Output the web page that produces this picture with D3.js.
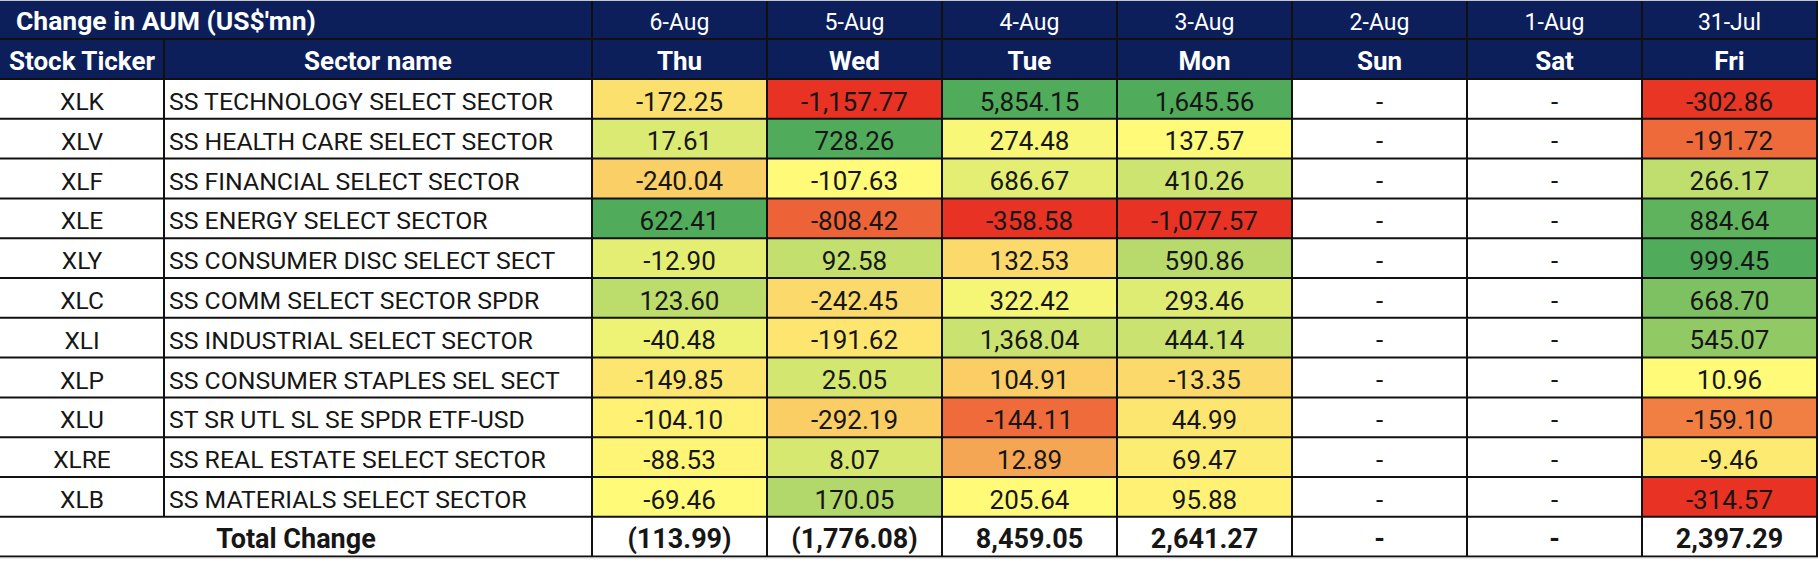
<!DOCTYPE html>
<html><head><meta charset="utf-8">
<script src="https://cdn.jsdelivr.net/npm/d3@7"></script>
<style>html,body{margin:0;padding:0;background:#fff;} svg{display:block}</style>
</head><body><svg id="chart" width="1818" height="568"></svg>
<script>
// ---------- data ----------
const title = "Change in AUM (US$'mn)";
const tickerHeader = "Stock Ticker";
const sectorHeader = "Sector name";
const totalLabel = "Total Change";
const dates = ["6-Aug","5-Aug","4-Aug","3-Aug","2-Aug","1-Aug","31-Jul"];
const days = ["Thu","Wed","Tue","Mon","Sun","Sat","Fri"];
const tickers = ["XLK","XLV","XLF","XLE","XLY","XLC","XLI","XLP","XLU","XLRE","XLB"];
const sectors = [
  "SS TECHNOLOGY SELECT SECTOR",
  "SS HEALTH CARE SELECT SECTOR",
  "SS FINANCIAL SELECT SECTOR",
  "SS ENERGY SELECT SECTOR",
  "SS CONSUMER DISC SELECT SECT",
  "SS COMM SELECT SECTOR SPDR",
  "SS INDUSTRIAL SELECT SECTOR",
  "SS CONSUMER STAPLES SEL SECT",
  "ST SR UTL SL SE SPDR ETF-USD",
  "SS REAL ESTATE SELECT SECTOR",
  "SS MATERIALS SELECT SECTOR"
];
const thu = [-172.25, 17.61, -240.04, 622.41, -12.90, 123.60, -40.48, -149.85, -104.10, -88.53, -69.46];
const wed = [-1157.77, 728.26, -107.63, -808.42, 92.58, -242.45, -191.62, 25.05, -292.19, 8.07, 170.05];
const tue = [5854.15, 274.48, 686.67, -358.58, 132.53, 322.42, 1368.04, 104.91, -144.11, 12.89, 205.64];
const mon = [1645.56, 137.57, 410.26, -1077.57, 590.86, 293.46, 444.14, -13.35, 44.99, 69.47, 95.88];
const sun = [null, null, null, null, null, null, null, null, null, null, null];
const sat = [null, null, null, null, null, null, null, null, null, null, null];
const fri = [-302.86, -191.72, 266.17, 884.64, 999.45, 668.70, 545.07, 10.96, -159.10, -9.46, -314.57];
const totals = [-113.99, -1776.08, 8459.05, 2641.27, null, null, 2397.29];

const series = [thu, wed, tue, mon, sun, sat, fri];

// ---------- style / layout ----------
const NAVY = "#0c1f5b";
const LINE = "#111";
const RED = d3.rgb(232, 50, 35), YEL = d3.rgb(255, 250, 120), GRN = d3.rgb(80, 172, 90);
const redSide = d3.interpolateRgb(RED, YEL), grnSide = d3.interpolateRgb(YEL, GRN);
const lowAnchorOverride = { Thu: -1100 };
const FONT = "Roboto, 'Liberation Sans', Arial, sans-serif";

const xTicker = [0, 164], xSector = [164, 592];
const x = d3.scaleBand().domain(days).range([592, 1817]);
const yHead1 = [1, 39], yHead2 = [39, 79];
const y = d3.scaleBand().domain(tickers).range([79, 516.8]);
const yTotal = [516.8, 556.6];

const loc = d3.formatLocale({decimal: ".", thousands: ",", grouping: [3], currency: ["$", ""], minus: "-"});
const fmt = loc.format(",.2f");
const fmtVal = v => v == null ? "-" : fmt(v);
const fmtTot = v => v == null ? "-" : (v < 0 ? "(" + fmt(-v) + ")" : fmt(v));

function colorScale(vals, day) {
  const valid = vals.filter(v => v != null);
  if (!valid.length) return () => "#fff";
  const lo = lowAnchorOverride[day] ?? d3.min(valid);
  const mid = d3.median(valid), hi = d3.max(valid);
  const tR = d3.scaleLinear().domain([lo, mid]).range([0, 1]).clamp(true);
  const tG = d3.scaleLinear().domain([mid, hi]).range([0, 1]).clamp(true);
  return v => v == null ? "#fff" : (v <= mid ? redSide(Math.pow(tR(v), 1.3)) : grnSide(Math.pow(tG(v), 0.75)));
}

const svg = d3.select("#chart");
svg.append("rect").attr("width", 1818).attr("height", 568).attr("fill", "#fff");

// header background
svg.append("rect").attr("x", 0).attr("y", yHead1[0]).attr("width", 1817).attr("height", yHead2[1] - yHead1[0]).attr("fill", NAVY);

// data cells
days.forEach((d, j) => {
  const col = series[j];
  const c = colorScale(col, d);
  svg.append("g").selectAll("rect").data(col).join("rect")
    .attr("x", x(d)).attr("y", (v, i) => y(tickers[i]))
    .attr("width", x.bandwidth()).attr("height", y.bandwidth())
    .attr("fill", v => c(v));
});

// grid lines
const g = svg.append("g").attr("stroke", LINE).attr("stroke-width", 2);
const hLines = [yHead1[1], yHead2[1], ...tickers.map(t => y(t) + y.bandwidth()), yTotal[1]];
hLines.forEach(yy => g.append("line").attr("x1", 0).attr("x2", 1818).attr("y1", yy).attr("y2", yy));
g.append("line").attr("x1", xTicker[1]).attr("x2", xTicker[1]).attr("y1", yHead1[1]).attr("y2", yTotal[0]);
const vLines = [xSector[1], ...days.map(d => x(d) + x.bandwidth())];
vLines.forEach(xx => g.append("line").attr("x1", xx).attr("x2", xx).attr("y1", yHead1[0]).attr("y2", yTotal[1]));
svg.append("line").attr("x1", 0).attr("x2", 1818).attr("y1", 0.5).attr("y2", 0.5).attr("stroke", "#c8c8c8").attr("stroke-width", 1);
svg.append("line").attr("x1", 0).attr("x2", 1818).attr("y1", 558).attr("y2", 558).attr("stroke", "#d8d8d8").attr("stroke-width", 1);

// header text
const T = svg.append("g").attr("font-family", FONT);
T.append("text").attr("x", 16).attr("y", 30).attr("fill", "#fff").attr("font-weight", 700).attr("font-size", 26.5).text(title);
T.append("text").attr("x", (xTicker[0] + xTicker[1]) / 2).attr("y", 70).attr("text-anchor", "middle")
  .attr("fill", "#fff").attr("font-weight", 700).attr("font-size", 26).text(tickerHeader);
T.append("text").attr("x", (xSector[0] + xSector[1]) / 2).attr("y", 70).attr("text-anchor", "middle")
  .attr("fill", "#fff").attr("font-weight", 700).attr("font-size", 26).text(sectorHeader);
T.append("g").selectAll("text").data(dates).join("text")
  .attr("x", (d, j) => x(days[j]) + x.bandwidth() / 2).attr("y", 30).attr("text-anchor", "middle")
  .attr("fill", "#fff").attr("font-size", 23).text(d => d);
T.append("g").selectAll("text").data(days).join("text")
  .attr("x", d => x(d) + x.bandwidth() / 2).attr("y", 70).attr("text-anchor", "middle")
  .attr("fill", "#fff").attr("font-weight", 700).attr("font-size", 26).text(d => d);

// body text
const B = svg.append("g").attr("font-family", FONT).attr("fill", "#161616");
B.append("g").selectAll("text").data(tickers).join("text")
  .attr("x", (xTicker[0] + xTicker[1]) / 2).attr("y", t => y(t) + 31).attr("text-anchor", "middle")
  .attr("font-size", 24.5).text(t => t);
B.append("g").selectAll("text").data(sectors).join("text")
  .attr("x", xSector[0] + 5).attr("y", (s, i) => y(tickers[i]) + 31)
  .attr("font-size", 24.8).text(s => s);
days.forEach((d, j) => {
  B.append("g").selectAll("text").data(series[j]).join("text")
    .attr("x", x(d) + x.bandwidth() / 2).attr("y", (v, i) => y(tickers[i]) + 31.5)
    .attr("text-anchor", "middle").attr("font-size", 26).text(v => fmtVal(v));
});

// total row
const TT = svg.append("g").attr("font-family", FONT).attr("font-weight", 700).attr("font-size", 27).attr("fill", "#161616");
TT.append("text").attr("x", (xTicker[0] + xSector[1]) / 2).attr("y", yTotal[0] + 31.5).attr("text-anchor", "middle").text(totalLabel);
TT.append("g").selectAll("text").data(totals).join("text")
  .attr("x", (v, j) => x(days[j]) + x.bandwidth() / 2).attr("y", yTotal[0] + 31.5)
  .attr("text-anchor", "middle").text(v => fmtTot(v));
</script>
</body></html>
